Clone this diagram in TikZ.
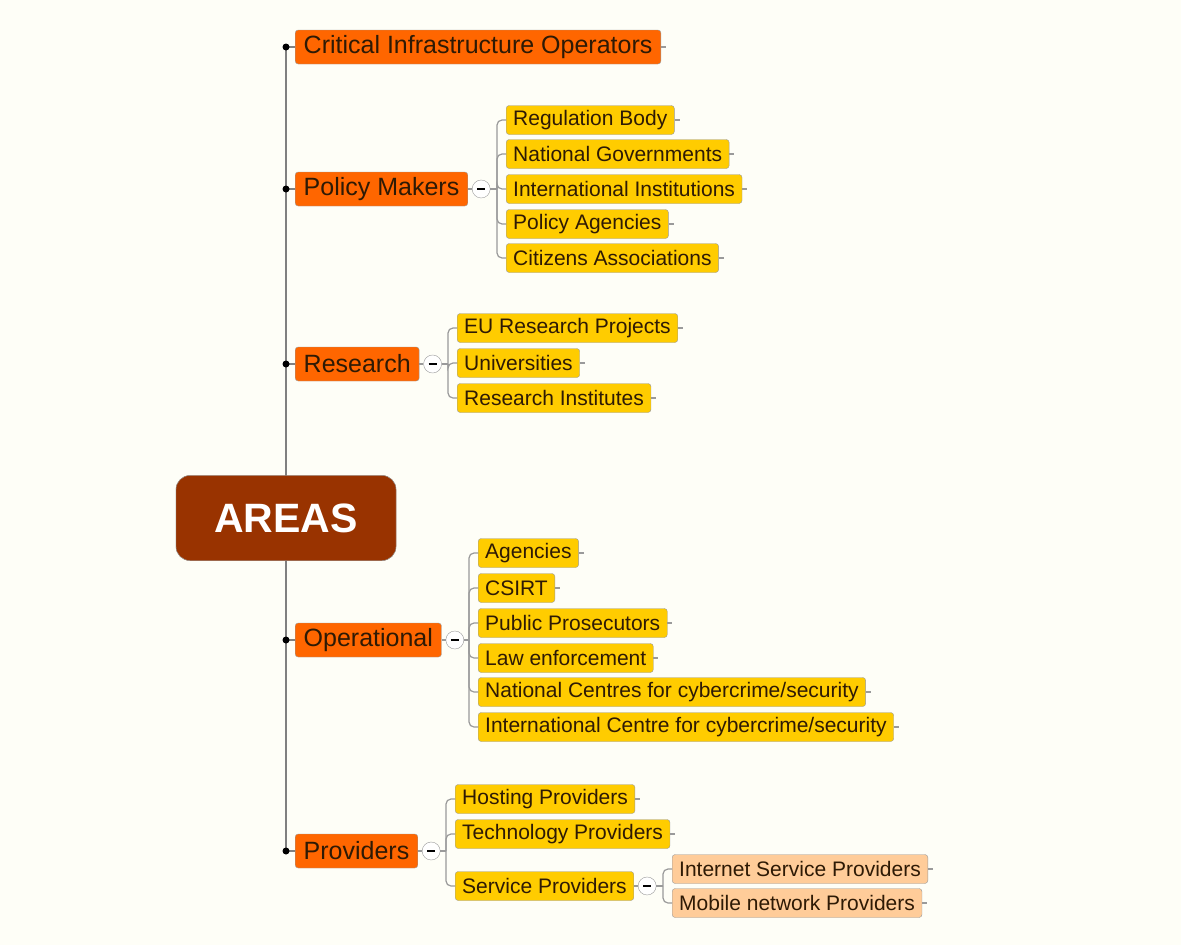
\documentclass[tikz,border=0pt]{standalone}
\usepackage{fontspec}
\setmainfont{Liberation Sans}
\usetikzlibrary{positioning}
\definecolor{bgcream}{HTML}{FEFEF7}
\definecolor{areabrown}{HTML}{993300}
\definecolor{mainorange}{HTML}{FF6600}
\definecolor{subyellow}{HTML}{FFCC00}
\definecolor{leafpeach}{HTML}{FFCC99}
\definecolor{inkdark}{HTML}{2E1A05}
\definecolor{linkgray}{HTML}{9A9A9A}

\begin{document}
\begin{tikzpicture}[x=1pt,y=-1pt,
  areabox/.style={draw=linkgray, fill=areabrown, rounded corners=14pt, text=white,
    font=\fontsize{41}{45}\selectfont\bfseries, minimum width=220pt, minimum height=85pt},
  mainbox/.style={draw=linkgray, fill=mainorange, rounded corners=3pt, text=inkdark, anchor=west,
    font=\fontsize{25}{28}\selectfont, minimum height=34pt, inner xsep=8.5pt, inner ysep=0pt},
  subbox/.style={draw=linkgray, fill=subyellow, rounded corners=3pt, text=inkdark, anchor=west,
    font=\fontsize{21}{24}\selectfont, minimum height=29pt, inner xsep=7pt, inner ysep=0pt},
  leafbox/.style={subbox, fill=leafpeach},
  minus/.style={circle, draw=linkgray, fill=white, minimum size=18pt, inner sep=0pt,
    path picture={\draw[black, line width=1.2pt]
      ([xshift=-4pt]path picture bounding box.center) -- ([xshift=4pt]path picture bounding box.center);}},
  trunk/.style={draw=gray, line width=1.6pt},
  link/.style={draw=linkgray, line width=1.2pt}]
\fill[bgcream] (0,0) rectangle (1181,945);
\useasboundingbox (0,0) rectangle (1181,945);

% centre and main areas
\node[areabox] (areas) at (286,518) {AREAS};
\node[mainbox] (cio) at (295,47) {Critical Infrastructure Operators};
\node[mainbox] (pm) at (295,189) {Policy Makers};
\node[mainbox] (res) at (295,364) {Research};
\node[mainbox] (op) at (295,640) {Operational};
\node[mainbox] (prov) at (295,851) {Providers};

% trunk
\foreach \n in {cio,pm,res,op,prov}
  \draw[trunk] (areas.center) |- (\n.west);
\foreach \n in {cio,pm,res,op,prov}
  \fill[black] (areas.center |- \n.west) circle (3.5);
\node[areabox] at (areas) {AREAS};

% policy makers
\node[minus, right=4pt of pm] (pm-m) {};
\node[subbox] (rb) at (506,120) {Regulation Body};
\node[subbox] (ng) at (506,154) {National Governments};
\node[subbox] (ii) at (506,189) {International Institutions};
\node[subbox] (pa) at (506,224) {Policy Agencies};
\node[subbox] (ca) at (506,258) {Citizens Associations};
\coordinate (pm-j) at ([xshift=-9pt]ii.west);
\draw[link] (pm.east) -- (pm-m.west);
\draw[link] (pm-m.east) -- (pm-j);
\foreach \c in {rb,ng,ii,pa,ca}
  \draw[link, rounded corners=5pt] (pm-j) |- (\c.west);

% research
\node[minus, right=4pt of res] (res-m) {};
\node[subbox] (eu) at (457,328) {EU Research Projects};
\node[subbox] (uni) at (457,363) {Universities};
\node[subbox] (ri) at (457,398) {Research Institutes};
\coordinate (res-j) at ([xshift=-9pt]uni.west |- res-m.east);
\draw[link] (res.east) -- (res-m.west);
\draw[link] (res-m.east) -- (res-j);
\foreach \c in {eu,uni,ri}
  \draw[link, rounded corners=5pt] (res-j) |- (\c.west);

% operational
\node[minus, right=4pt of op] (op-m) {};
\node[subbox] (ag) at (478,553) {Agencies};
\node[subbox] (csirt) at (478,588) {CSIRT};
\node[subbox] (pp) at (478,623) {Public Prosecutors};
\node[subbox] (le) at (478,658) {Law enforcement};
\node[subbox] (nc) at (478,692) {National Centres for cybercrime/security};
\node[subbox] (ic) at (478,727) {International Centre for cybercrime/security};
\coordinate (op-j) at ([xshift=-9pt]ag.west |- op-m.east);
\draw[link] (op.east) -- (op-m.west);
\draw[link] (op-m.east) -- (op-j);
\foreach \c in {ag,csirt,pp,le,nc,ic}
  \draw[link, rounded corners=5pt] (op-j) |- (\c.west);

% providers
\node[minus, right=4pt of prov] (prov-m) {};
\node[subbox] (hp) at (455,799) {Hosting Providers};
\node[subbox] (tp) at (455,834) {Technology Providers};
\node[subbox] (sp) at (455,886) {Service Providers};
\coordinate (prov-j) at ([xshift=-9pt]hp.west |- prov-m.east);
\draw[link] (prov.east) -- (prov-m.west);
\draw[link] (prov-m.east) -- (prov-j);
\foreach \c in {hp,tp,sp}
  \draw[link, rounded corners=5pt] (prov-j) |- (\c.west);

% service providers
\node[minus, right=4pt of sp] (sp-m) {};
\node[leafbox] (isp) at (672,869) {Internet Service Providers};
\node[leafbox] (mnp) at (672,903) {Mobile network Providers};
\coordinate (sp-j) at ([xshift=-9pt]isp.west |- sp-m.east);
\draw[link] (sp.east) -- (sp-m.west);
\draw[link] (sp-m.east) -- (sp-j);
\foreach \c in {isp,mnp}
  \draw[link, rounded corners=5pt] (sp-j) |- (\c.west);

% loose ends
\foreach \n in {cio,rb,ng,ii,pa,ca,eu,uni,ri,ag,csirt,pp,le,nc,ic,hp,tp,isp,mnp}
  \draw[link] (\n.east) -- ++(5,0);
\end{tikzpicture}
\end{document}
